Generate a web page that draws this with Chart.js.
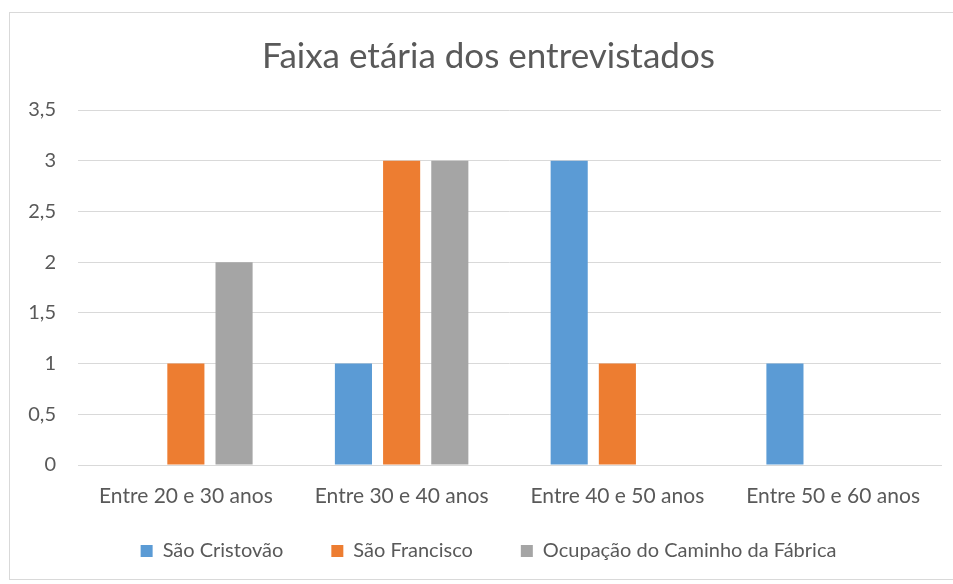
<!DOCTYPE html>
<html><head><meta charset="utf-8">
<script src="https://cdn.jsdelivr.net/npm/chart.js@4"></script>
<style>
html,body{margin:0;padding:0;background:#fff;}
#box{position:absolute;left:9px;top:12px;width:944px;height:568px;border:1px solid #d9d9d9;border-right:none;box-sizing:border-box;}
#wrap{position:absolute;left:0;top:0;width:943px;height:567px;}
</style></head>
<body>
<div id="box"><div id="wrap"><canvas id="c"></canvas></div></div>
<script>
const categories = ["Entre 20 e 30 anos","Entre 30 e 40 anos","Entre 40 e 50 anos","Entre 50 e 60 anos"];
const seriesNames = ["São Cristovão","São Francisco","Ocupação do Caminho da Fábrica"];
const saoCristovao = [0,1,3,1];
const saoFrancisco = [1,3,1,0];
const ocupacao = [2,3,0,0];
const colors = ["#5b9bd5","#ed7d31","#a5a5a5"];
const FONT = "Lato, 'Open Sans', sans-serif";
const TXT = "#595959";
const noClip = {id:'noClip', afterLayout(chart){ Object.values(chart.scales).forEach(s=>{ s._computeLabelArea = ()=>undefined; }); }};
new Chart(document.getElementById('c'), {
  type:'bar',
  plugins:[noClip],
  data:{labels:categories,datasets:[
    {label:seriesNames[0],data:saoCristovao,backgroundColor:colors[0]},
    {label:seriesNames[1],data:saoFrancisco,backgroundColor:colors[1]},
    {label:seriesNames[2],data:ocupacao,backgroundColor:colors[2]}
  ]},
  options:{
    responsive:true,maintainAspectRatio:false,animation:false,
    datasets:{bar:{categoryPercentage:0.67,barPercentage:0.77}},
    layout:{padding:{left:26,right:12,top:0,bottom:9}},
    plugins:{
      title:{display:true,text:"Faixa etária dos entrevistados",color:TXT,font:{family:FONT,size:35,weight:'normal'},padding:{top:23,bottom:32}},
      legend:{position:'bottom',labels:{color:TXT,font:{family:FONT,size:20},boxWidth:12,boxHeight:12,padding:48},
        onClick:null},
      tooltip:{enabled:false}
    },
    scales:{
      x:{grid:{display:false,drawTicks:false},border:{color:'#d9d9d9'},
        ticks:{color:TXT,font:{family:FONT,size:21},padding:19,maxRotation:0,autoSkip:false},
        afterFit:s=>{s.height=28;}},
      y:{min:0,max:3.5,grid:{color:'#d9d9d9',drawTicks:false},border:{display:false},
        ticks:{stepSize:0.5,color:TXT,font:{family:FONT,size:20},padding:22,
          callback:v=>String(v).replace('.',',')},
        afterFit:s=>{s.width=42;}}
    }
  }
});
</script>
</body></html>
